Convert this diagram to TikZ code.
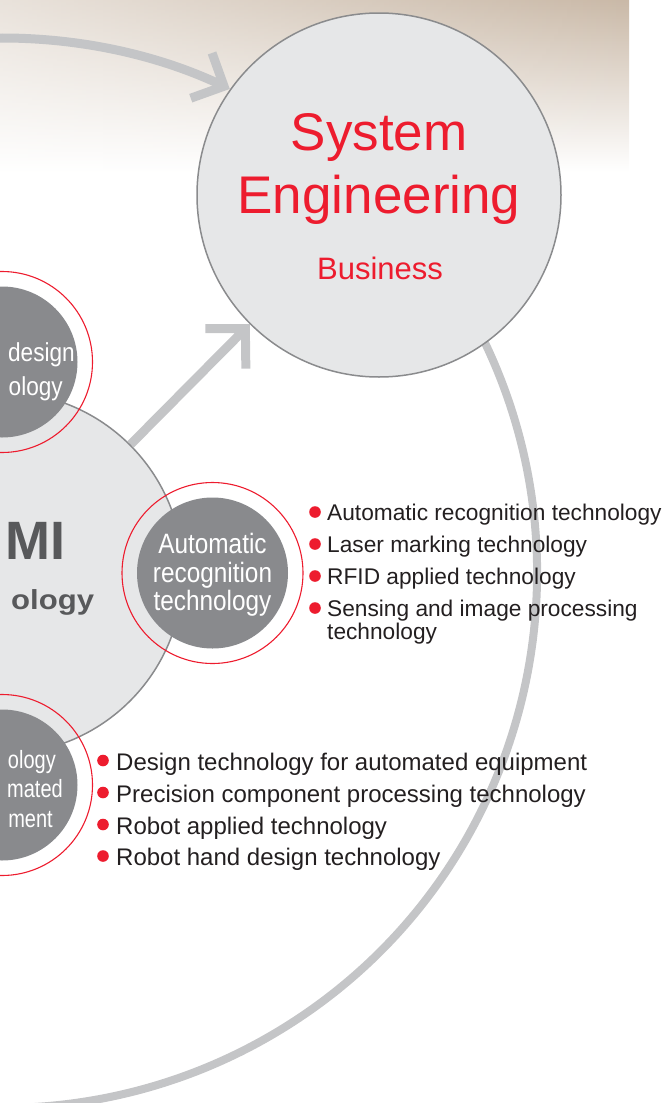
\documentclass[tikz,border=0pt]{standalone}
\usepackage{fontspec}
\setmainfont{Liberation Sans}
\newfontfamily\condfont[FakeStretch=0.87]{Liberation Sans}
\newfontfamily\narrowfont[FakeStretch=0.8]{Liberation Sans}
\newfontfamily\widefont[FakeStretch=1.13]{Liberation Sans}
\usetikzlibrary{arrows.meta,fadings}
\definecolor{sered}{RGB}{237,28,46}
\definecolor{circfill}{RGB}{230,231,232}
\definecolor{circedge}{RGB}{138,139,141}
\definecolor{darksat}{RGB}{137,138,141}
\definecolor{arrgray}{RGB}{196,197,199}
\definecolor{mitext}{RGB}{88,89,91}
\definecolor{listtext}{RGB}{35,31,32}
\definecolor{bgtop}{RGB}{201,184,166}
\tikzfading[name=leftfade, left color=transparent!40, right color=transparent!100]
\pgfdeclarelayer{bglayer}
\pgfdeclarelayer{arrowlayer}
\pgfsetlayers{bglayer,arrowlayer,main}
\begin{document}
\begin{tikzpicture}[x=1pt,y=-1pt,
  bigcirc/.style={circle, fill=circfill, draw=circedge, line width=1.5pt, inner sep=0pt},
  sat/.style={circle, fill=darksat, minimum size=151pt, inner sep=0pt},
  satring/.style={circle, draw=sered, line width=1.1pt, minimum size=181pt, inner sep=0pt},
  cycarrow/.style={draw=arrgray, line width=9pt, -{Straight Barb[length=25pt,width=50pt,sharp]}},
  diagarrow/.style={draw=arrgray, line width=9pt, -{Straight Barb[length=28pt,width=57pt,sharp]}},
  cycline/.style={draw=arrgray, line width=8pt},
  sattext/.style={text=white, inner sep=0pt},
  setext/.style={text=sered, inner sep=0pt, anchor=base},
  itemtext/.style={text=listtext, inner sep=0pt, anchor=base west},
  bulletdot/.style={circle, fill=sered, minimum size=11.6pt, inner sep=0pt}
]
\useasboundingbox (0,0) rectangle (665,1103);

% background
\begin{pgfonlayer}{bglayer}
\shade[top color=bgtop, bottom color=white] (-2,-2) rectangle (629,172);
\fill[white, path fading=leftfade] (-2,-2) rectangle (629,172);
\end{pgfonlayer}

% main circles
\coordinate (cyc) at (2,573);
\node[bigcirc, minimum size=362pt] (mi) at (2,573) {};
\node[bigcirc, minimum size=364pt] (se) at (379,195) {};

% arrows (behind circles)
\begin{pgfonlayer}{arrowlayer}
\draw[cycline] (cyc) ++(-30:535) coordinate (arcB) arc[start angle=-30, end angle=95, radius=535];
\draw[cycarrow] (cyc) ++(-93:535) coordinate (arcA) arc[start angle=-93, end angle=-64.8, radius=535];
\draw[diagarrow] (mi.45) -- (se.225);
\end{pgfonlayer}

% satellites
\node[sat] (s1) at (2,362) {};
\node[satring] (r1) at (2,362) {};
\node[sat] (s2) at (212.5,573) {};
\node[satring] (r2) at (212.5,573) {};
\node[sat] (s3) at (2,785) {};
\node[satring] (r3) at (2,785) {};

% system engineering text
\node[setext, font=\fontsize{53}{53}\selectfont] (sys) at (379,150) {System};
\node[setext, font=\fontsize{53}{53}\selectfont] (eng) at (379,213) {Engineering};
\node[setext, font=\fontsize{31}{31}\selectfont] (bus) at (380,279) {Business};

% MI text
\node[anchor=base west, inner sep=0pt, text=mitext, font=\bfseries\fontsize{54}{54}\selectfont] (mit) at (5,559) {MI};
\node[anchor=base west, inner sep=0pt, text=mitext, font=\widefont\bfseries\fontsize{27.5}{27.5}\selectfont] (mio) at (11,609) {ology};

% satellite texts
\node[sattext, anchor=base east, font=\condfont\fontsize{26}{26}\selectfont] (d1) at (75,361) {design};
\node[sattext, anchor=base east, font=\condfont\fontsize{26}{26}\selectfont] (d2) at (63,395) {ology};
\node[sattext, anchor=base, font=\condfont\fontsize{28}{28}\selectfont] (a1) at (212.5,553) {Automatic};
\node[sattext, anchor=base, font=\condfont\fontsize{28}{28}\selectfont] (a2) at (212.5,582) {recognition};
\node[sattext, anchor=base, font=\condfont\fontsize{28}{28}\selectfont] (a3) at (212.5,610) {technology};
\node[sattext, anchor=base east, font=\narrowfont\fontsize{25}{25}\selectfont] (m1) at (56,768) {ology};
\node[sattext, anchor=base east, font=\narrowfont\fontsize{25}{25}\selectfont] (m2) at (63,797) {mated};
\node[sattext, anchor=base east, font=\narrowfont\fontsize{25}{25}\selectfont] (m3) at (53,827) {ment};

% list 1
\node[bulletdot] (b11) at (315,512) {};
\node[bulletdot] (b12) at (315,544) {};
\node[bulletdot] (b13) at (315,576) {};
\node[bulletdot] (b14) at (315,608) {};
\node[itemtext, font=\fontsize{22.7}{22.7}\selectfont] (l11) at (327,520) {Automatic recognition technology};
\node[itemtext, font=\fontsize{22.7}{22.7}\selectfont] (l12) at (327,552) {Laser marking technology};
\node[itemtext, font=\fontsize{22.7}{22.7}\selectfont] (l13) at (327,584) {RFID applied technology};
\node[itemtext, font=\fontsize{22.7}{22.7}\selectfont] (l14) at (327,616) {Sensing and image processing};
\node[itemtext, font=\fontsize{22.7}{22.7}\selectfont] (l15) at (327,639) {technology};

% list 2
\node[bulletdot] (b21) at (103,760.5) {};
\node[bulletdot] (b22) at (103,792.5) {};
\node[bulletdot] (b23) at (103,824.5) {};
\node[bulletdot] (b24) at (103,856) {};
\node[itemtext, font=\fontsize{24}{24}\selectfont] (l21) at (116,770) {Design technology for automated equipment};
\node[itemtext, font=\fontsize{24}{24}\selectfont] (l22) at (116,802) {Precision component processing technology};
\node[itemtext, font=\fontsize{24}{24}\selectfont] (l23) at (116,834) {Robot applied technology};
\node[itemtext, font=\fontsize{24}{24}\selectfont] (l24) at (116,865) {Robot hand design technology};
\end{tikzpicture}
\end{document}
